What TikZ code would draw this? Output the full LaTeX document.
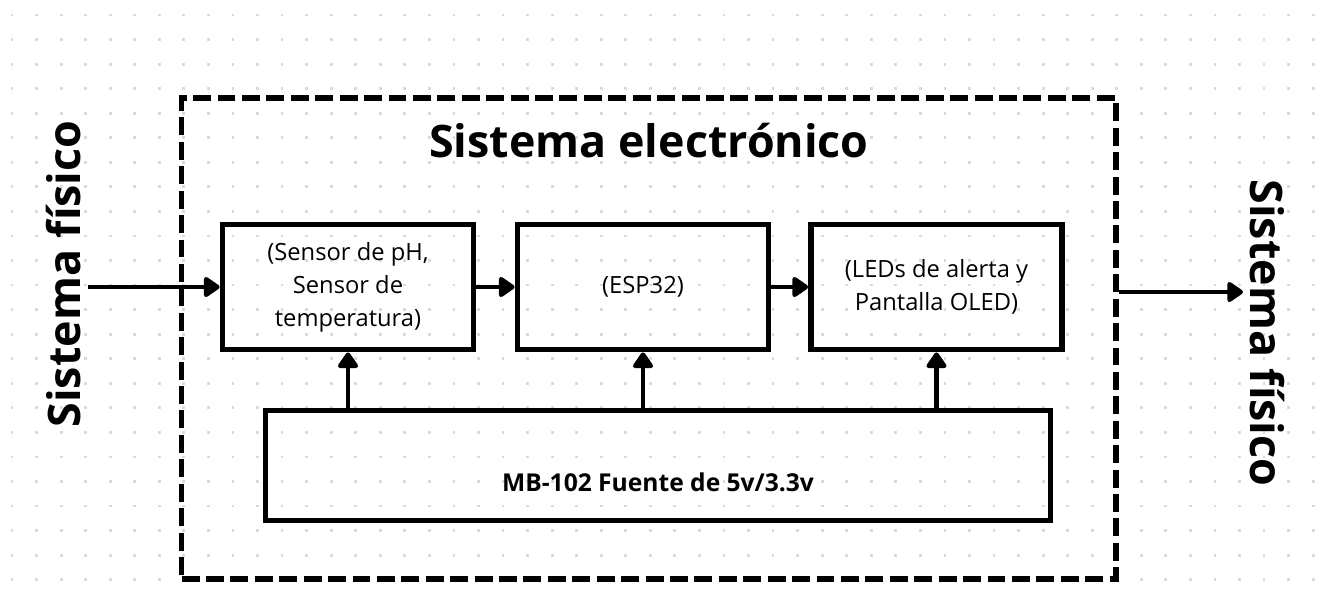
\documentclass[tikz,border=0pt]{standalone}
\usepackage{fontspec}
\setmainfont{Open Sans}
\usetikzlibrary{arrows.meta}
\definecolor{griddot}{RGB}{214,218,228}
\tikzset{
  block/.style={draw, line width=3.3pt, minimum width=5.02cm, minimum height=2.5cm, align=center, font=\fontsize{13.5}{18.7}\selectfont},
  flow/.style={line width=2.7pt, -{Triangle[length=10pt,width=13pt,round]}},
  frame/.style={draw, line width=3pt, dash pattern=on 10.2pt off 3.7pt, inner sep=0pt},
  heading/.style={font=\fontsize{25.5}{30}\selectfont\bfseries, anchor=base},
}
\begin{document}
\begin{tikzpicture}[x=0.02cm, y=-0.02cm]
\useasboundingbox (0,0) rectangle (1326,599);
\foreach \i in {0,...,53}
  \foreach \j in {0,...,23}
    \fill[griddot] (12+24.55*\i,15+24.55*\j) +(-1.4,-1.4) rectangle +(1.4,1.4);
\node[frame, minimum width=18.69cm, minimum height=9.62cm] (sistema) at (648.75,338.5) {};
\node[heading] (titulo) at (649,157) {Sistema electrónico};
\node[heading, rotate=90] (fisicoL) at (80,274) {Sistema físico};
\node[heading, rotate=-90] (fisicoR) at (1250,333) {Sistema físico};
\node[block] (sensores) at (348,287) {(Sensor de pH,\\Sensor de\\temperatura)};
\node[block] (esp) at (643,287) {(ESP32)};
\node[block] (leds) at (936.5,287) {(LEDs de alerta y\\Pantalla OLED)};
\node[block, minimum width=15.7cm, minimum height=2.2cm, text height=30pt, text depth=0pt, font=\fontsize{14}{18}\selectfont\bfseries] (fuente) at (658,465.5) {MB-102 Fuente de 5v/3.3v};
\coordinate (entrada) at (88,287);
\coordinate (salida) at (1243,292);
\draw[flow] (entrada) -- (sensores.west);
\draw[flow] (sensores) -- (esp);
\draw[flow] (esp) -- (leds);
\draw[flow] (sistema.east |- salida) -- (salida);
\draw[flow] (sensores.south |- fuente.north) -- (sensores.south);
\draw[flow] (esp.south |- fuente.north) -- (esp.south);
\draw[flow] (leds.south |- fuente.north) -- (leds.south);
\end{tikzpicture}
\end{document}
